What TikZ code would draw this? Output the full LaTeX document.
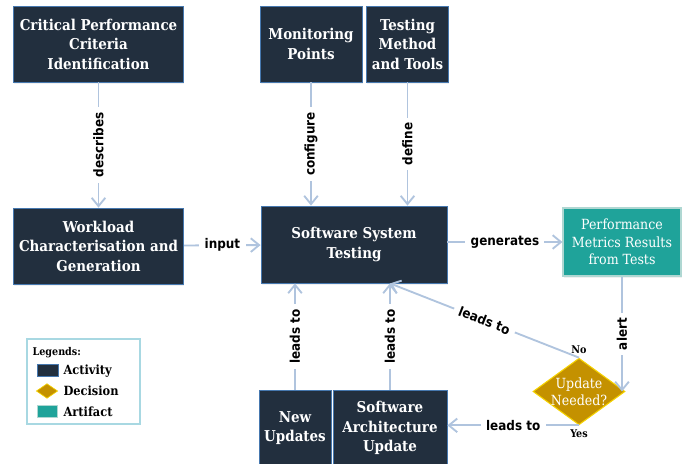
\documentclass[tikz,border=0pt]{standalone}
\usepackage{fontspec}
\setmainfont{DejaVu Serif Condensed}
\newfontfamily\lblfont{DejaVu Sans Condensed}
\usepackage{tikz}
\usetikzlibrary{shapes,arrows.meta,positioning,calc,shadows}
\definecolor{actfill}{RGB}{34,47,62}
\definecolor{actborder}{RGB}{70,120,175}
\definecolor{artfill}{RGB}{31,163,154}
\definecolor{artborder}{RGB}{175,215,210}
\definecolor{decfill}{RGB}{196,145,0}
\definecolor{decborder}{RGB}{245,210,0}
\definecolor{flowcol}{RGB}{176,196,222}
\definecolor{legborder}{RGB}{168,216,226}

\begin{document}
\begin{tikzpicture}[x=0.75pt, y=-0.75pt,
  activity/.style={rectangle, draw=actborder, line width=0.6pt, fill=actfill, text=white, align=center, inner sep=2pt, font=\bfseries\fontsize{11.2}{14.6}\selectfont, drop shadow={opacity=0.12, shadow xshift=0.4pt, shadow yshift=-1.5pt}},
  artifact/.style={rectangle, draw=artborder, line width=0.8pt, fill=artfill, text=white, align=center, inner sep=2pt, font=\fontsize{10.5}{13}\selectfont, drop shadow={opacity=0.12, shadow xshift=0.4pt, shadow yshift=-1.5pt}},
  decision/.style={diamond, draw=decborder, line width=0.8pt, fill=decfill, text=white, align=center, inner sep=-4pt, font=\fontsize{10.5}{13}\selectfont},
  flow/.style={-{Straight Barb[length=2.2mm,width=3.6mm]}, line width=1.4pt, color=flowcol},
  lbl/.style={fill=white, text=black, inner sep=4pt, font=\lblfont\bfseries\fontsize{10}{12}\selectfont},
  tag/.style={text=black, inner sep=1pt, font=\bfseries\fontsize{8}{9.5}\selectfont},
  legitem/.style={anchor=west, inner sep=1pt, font=\bfseries\fontsize{9.5}{11}\selectfont}
]
\useasboundingbox (0,0) rectangle (689,464);

\node[activity, minimum width=128pt, minimum height=57pt] (crit) at (98.5,44) {Critical Performance\\Criteria\\Identification};
\node[activity, minimum width=76.5pt, minimum height=57pt] (mon) at (311,44) {Monitoring\\Points};
\node[activity, minimum width=62pt, minimum height=57pt] (tool) at (407.5,44) {Testing\\Method\\and Tools};
\node[activity, minimum width=128pt, minimum height=57pt] (work) at (98.5,246) {Workload\\Characterisation and\\Generation};
\node[activity, minimum width=139.5pt, minimum height=57.75pt] (sst) at (354,244.5) {Software System\\Testing};
\node[artifact, minimum width=88.5pt, minimum height=51pt] (perf) at (622,242) {Performance\\Metrics Results\\from Tests};
\node[decision, minimum width=69pt, minimum height=50pt] (dec) at (579,391.5) {Update\\Needed?};
\node[activity, minimum width=54pt, minimum height=57pt] (new) at (295,428) {New\\Updates};
\node[activity, minimum width=85.5pt, minimum height=57pt] (arch) at (390,428) {Software\\Architecture\\Update};

\node[tag, above=2pt of dec.north] (no) {No};
\node[tag, below=2pt of dec.south] (yes) {Yes};

\draw[flow] (crit) -- node[lbl, rotate=90] {describes} (work);
\draw[flow] (mon) -- node[lbl, rotate=90] {configure} (mon |- sst.north);
\draw[flow] (tool) -- node[lbl, rotate=90] {define} (tool |- sst.north);
\draw[flow] (work) -- node[lbl] {input} (sst);
\draw[flow] (sst.east |- perf) -- node[lbl] {generates} (perf);
\draw[flow] (perf) -- node[lbl, rotate=90] {alert} (perf |- dec.east);
\draw[flow] (dec.north) -- node[lbl, sloped] {leads to} (arch |- sst.south);
\draw[flow] (dec.south) -- node[lbl] {leads to} (arch.east |- dec.south);
\draw[flow] (new) -- node[lbl, rotate=90] {leads to} (new |- sst.south);
\draw[flow] (arch) -- node[lbl, rotate=90] {leads to} (arch |- sst.south);

% legend
\node[draw=legborder, line width=0.8pt, minimum width=84.75pt, minimum height=63.75pt] (legend) at (83.5,381.5) {};
\node[tag, anchor=west] (legtitle) at (31,353) {Legends:};
\node[rectangle, draw=actborder, line width=0.5pt, fill=actfill, minimum width=15.75pt, minimum height=9pt, inner sep=0pt] (legact) at (47.5,370) {};
\node[legitem] (legacttxt) at (62,371) {Activity};
\node[diamond, draw=decborder, line width=0.5pt, fill=decfill, minimum width=16pt, minimum height=11pt, inner sep=0pt] (legdec) at (47,391) {};
\node[legitem] (legdectxt) at (62,391) {Decision};
\node[rectangle, draw=artborder, line width=0.5pt, fill=artfill, minimum width=15pt, minimum height=9pt, inner sep=0pt] (legart) at (47,411) {};
\node[legitem] (legarttxt) at (62,412) {Artifact};
\end{tikzpicture}
\end{document}
